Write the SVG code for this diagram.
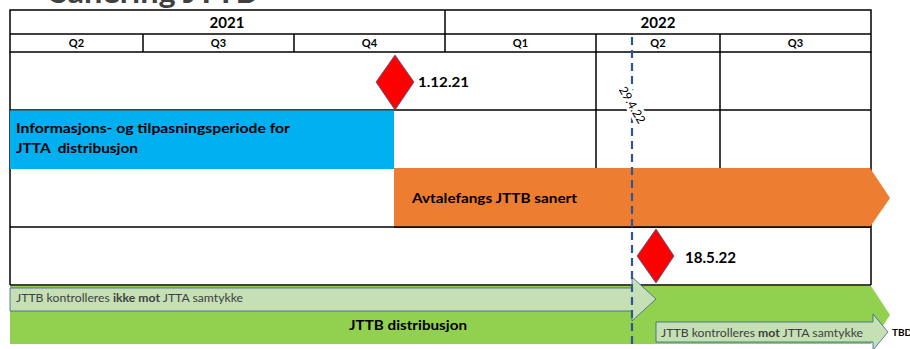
<svg xmlns="http://www.w3.org/2000/svg" width="910" height="349" viewBox="0 0 910 349">
<style>
.ln{stroke:#000;stroke-width:1.5;fill:none}
.b{font-family:Lato,"Liberation Sans",sans-serif;font-weight:bold;fill:#000}
.r{font-family:Lato,"Liberation Sans",sans-serif;fill:#404040}
.dia{fill:#ff0000;stroke:#2f5597;stroke-width:0.75}
.lg{fill:#c5e0b4;stroke:#2f5597;stroke-width:0.75}
</style>
<rect width="910" height="349" fill="#fff"/>
<g id="title">
<text class="b" x="50" y="3" font-size="30" textLength="207" lengthAdjust="spacingAndGlyphs" style="fill:#404040">Sanering JTTB</text>
</g>
<g id="header">
<rect class="ln" x="10" y="10" width="861" height="42"/>
<line class="ln" x1="10" y1="34" x2="871" y2="34"/>
<line class="ln" x1="445" y1="10" x2="445" y2="52"/>
<line class="ln" x1="143" y1="34" x2="143" y2="52"/>
<line class="ln" x1="294" y1="34" x2="294" y2="52"/>
<line class="ln" x1="596" y1="34" x2="596" y2="52"/>
<line class="ln" x1="720" y1="34" x2="720" y2="52"/>
<text class="b" x="227" y="28" font-size="15" text-anchor="middle">2021</text>
<text class="b" x="658" y="28" font-size="15" text-anchor="middle">2022</text>
<g font-size="11" text-anchor="middle">
<text class="b" x="76.5" y="47">Q2</text>
<text class="b" x="218.5" y="47">Q3</text>
<text class="b" x="369.5" y="47">Q4</text>
<text class="b" x="520.5" y="47">Q1</text>
<text class="b" x="658" y="47">Q2</text>
<text class="b" x="795.5" y="47">Q3</text>
</g>
</g>
<g id="grid">
<line class="ln" x1="10" y1="52" x2="10" y2="285"/>
<line class="ln" x1="871" y1="52" x2="871" y2="285"/>
<line class="ln" x1="10" y1="110" x2="871" y2="110"/>
<line class="ln" x1="596" y1="52" x2="596" y2="169"/>
<line class="ln" x1="720" y1="52" x2="720" y2="169"/>
<line class="ln" x1="10" y1="227" x2="871" y2="227"/>
<line class="ln" x1="10" y1="285" x2="871" y2="285"/>
</g>
<g id="blue-bar">
<rect x="10" y="110.5" width="384" height="58.5" fill="#00b0f0"/>
<text class="b" x="16" y="133" font-size="14" textLength="274" lengthAdjust="spacingAndGlyphs">Informasjons- og tilpasningsperiode for</text>
<text class="b" x="16" y="153" font-size="14" xml:space="preserve" textLength="122" lengthAdjust="spacingAndGlyphs">JTTA  distribusjon</text>
</g>
<g id="orange-bar">
<polygon points="394,168 870,168 890,198 870,227 394,227" fill="#ed7d31"/>
<line class="ln" x1="394" y1="227" x2="871" y2="227"/>
<text class="b" x="412" y="203" font-size="14" textLength="165" lengthAdjust="spacingAndGlyphs">Avtalefangs JTTB sanert</text>
</g>
<g id="green-bar">
<polygon points="10,286 871,286 890,315 871,344 10,344" fill="#92d050"/>
<text class="b" x="349" y="330" font-size="14" textLength="118" lengthAdjust="spacingAndGlyphs">JTTB distribusjon</text>
</g>
<g id="arrow-ikke-mot">
<polygon class="lg" points="10,288 632,288 632,277 656,299 632,321 632,311 10,311"/>
<text class="r" x="16" y="302" font-size="11" textLength="227" lengthAdjust="spacingAndGlyphs">JTTB kontrolleres <tspan font-weight="bold">ikke mot</tspan> JTTA samtykke</text>
</g>
<g id="arrow-mot">
<polygon class="lg" points="656,322 873,322 873,314 888,332 873,350 873,342 656,342"/>
<text class="r" x="661" y="337" font-size="11" textLength="202" lengthAdjust="spacingAndGlyphs">JTTB kontrolleres <tspan font-weight="bold">mot</tspan> JTTA samtykke</text>
<text class="b" x="892" y="336" font-size="10">TBD</text>
</g>
<g id="milestone-1">
<polygon class="dia" points="395,55 414,82 395,110 376,82"/>
<text class="b" x="418" y="87" font-size="14" textLength="51" lengthAdjust="spacingAndGlyphs">1.12.21</text>
</g>
<g id="milestone-2">
<polygon class="dia" points="656,229 674,256 656,283 637,256"/>
<text class="b" x="685" y="263" font-size="15" textLength="51" lengthAdjust="spacingAndGlyphs">18.5.22</text>
</g>
<g id="connectors">
<line x1="632" y1="37" x2="632" y2="349" stroke="#2f5597" stroke-width="2.2" stroke-dasharray="8 5"/>
</g>
<g id="today-label" transform="translate(632,105) rotate(60)">
<rect x="-23" y="-8" width="46" height="15" fill="#fff"/>
<text x="0" y="4" font-size="12" text-anchor="middle" font-family="Lato,'Liberation Sans',sans-serif" fill="#000">29.4.22</text>
</g>
</svg>
